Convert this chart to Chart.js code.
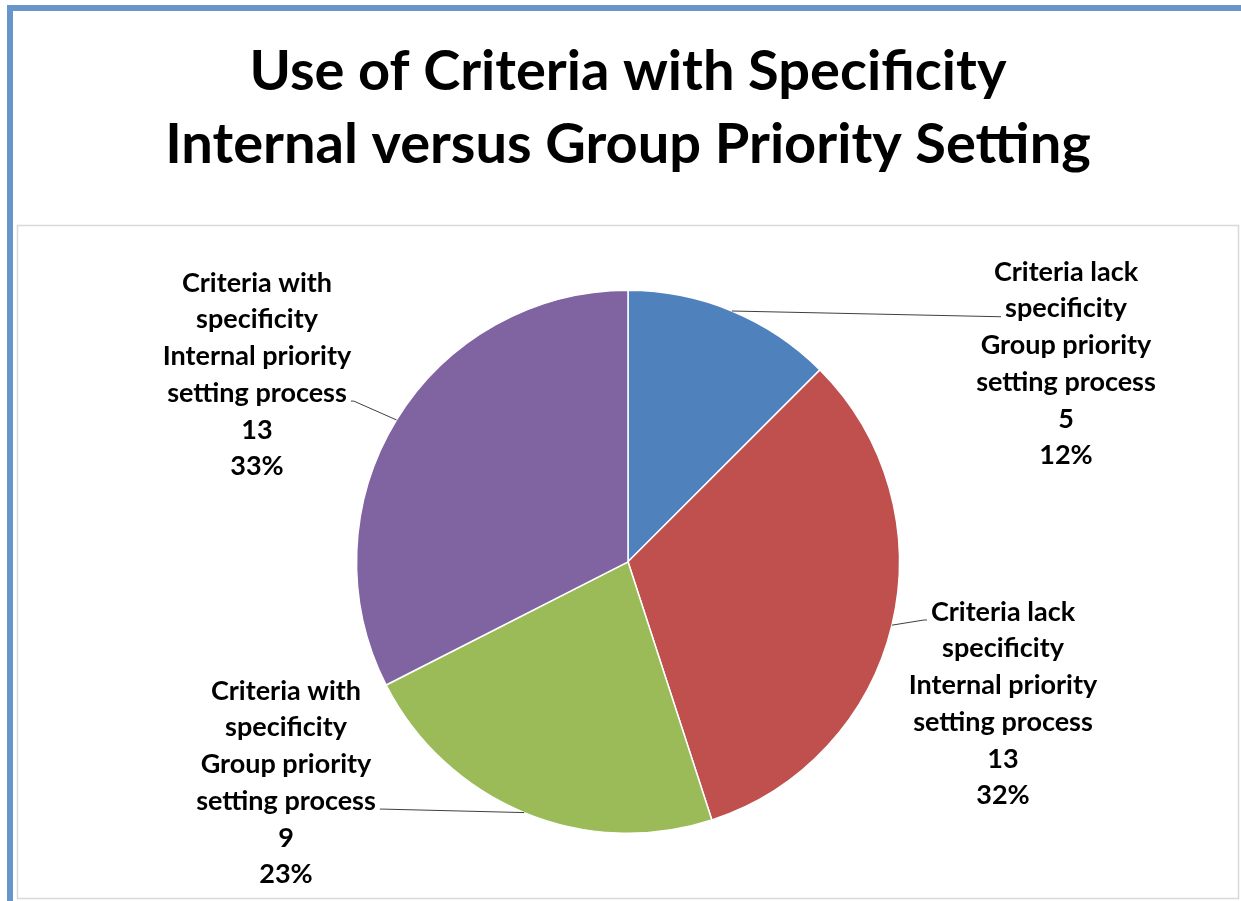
<!DOCTYPE html>
<html>
<head>
<title>Use of Criteria with Specificity</title>
<script src="https://cdn.jsdelivr.net/npm/chart.js@4.4.1/dist/chart.umd.min.js"></script>
<style>
body { margin:0; background:#fff; }
</style>
</head>
<body>
<canvas id="pie1" width="1241" height="901"></canvas>

<script>
// category names, wrapped the way the original shows them
var categories = [
	['Criteria lack', 'specificity', 'Group priority', 'setting process'],
	['Criteria lack', 'specificity', 'Internal priority', 'setting process'],
	['Criteria with', 'specificity', 'Group priority', 'setting process'],
	['Criteria with', 'specificity', 'Internal priority', 'setting process']
];
var counts = [5, 13, 9, 13];
var percentLabels = ['12%', '32%', '23%', '33%'];
var sliceColors = ['#4F81BD', '#C0504D', '#9BBB59', '#8064A2'];

// where each label block sits: centre x, centre y of first line,
// the line the leader touches and on which side
var labelLayout = [
	{x: 1066, y: 272, line: 1, side: 'left'},
	{x: 1003, y: 612, line: 0, side: 'left'},
	{x: 286,  y: 691, line: 3, side: 'right'},
	{x: 257,  y: 283, line: 3, side: 'right'}
];
var LINE_H = 36.7;

var framePlugin = {
	id: 'frame',
	beforeDraw: function(chart){
		var c = chart.ctx;
		c.save();
		c.fillStyle = '#fff';
		c.fillRect(0, 0, chart.width, chart.height);
		// outer blue frame (cut off on right / bottom)
		c.strokeStyle = '#6896CB';
		c.lineWidth = 6;
		c.strokeRect(10, 8, chart.width + 20, chart.height + 20);
		// plot area box
		c.strokeStyle = '#D9D9D9';
		c.lineWidth = 1.5;
		c.strokeRect(17.5, 225.5, 1221, 673);
		c.restore();
	}
};

var labelPlugin = {
	id: 'sliceLabels',
	afterDatasetsDraw: function(chart){
		var c = chart.ctx;
		var arcs = chart.getDatasetMeta(0).data;
		c.save();
		c.font = 'bold 27px Lato';
		c.fillStyle = '#000';
		c.textAlign = 'center';
		c.textBaseline = 'middle';
		arcs.forEach(function(arc, i){
			var p = arc.getProps(['x', 'y', 'startAngle', 'endAngle', 'outerRadius'], true);
			var mid = (p.startAngle + p.endAngle) / 2;
			var ax = p.x + p.outerRadius * Math.cos(mid);
			var ay = p.y + p.outerRadius * Math.sin(mid);
			var L = labelLayout[i];
			var lines = categories[i].concat([String(counts[i]), percentLabels[i]]);
			lines.forEach(function(t, k){
				c.fillText(t, L.x, L.y + k * LINE_H);
			});
			var w = c.measureText(lines[L.line]).width;
			var ty = L.y + L.line * LINE_H + 8;
			var tx = L.side == 'left' ? L.x - w / 2 - 4 : L.x + w / 2 + 4;
			var kx = L.side == 'left' ? tx - 3 : tx + 3;
			c.strokeStyle = '#404040';
			c.lineWidth = 1;
			c.beginPath();
			c.moveTo(ax, ay);
			c.lineTo(kx, ty);
			c.lineTo(tx, ty);
			c.stroke();
		});
		c.restore();
	}
};

var ctx = document.getElementById('pie1').getContext('2d');
var chart = new Chart(ctx, {
	type: 'pie',
	data: {
		labels: categories.map(function(l){ return l.join(' '); }),
		datasets: [{
			data: counts,
			backgroundColor: sliceColors,
			borderColor: '#fff',
			borderWidth: 1.5
		}]
	},
	options: {
		responsive: false,
		animation: false,
		devicePixelRatio: 1,
		layout: {padding: {left: 15, right: 0, top: 0, bottom: 67}},
		plugins: {
			legend: {display: false},
			tooltip: {enabled: false},
			title: {
				display: true,
				text: ['Use of Criteria with Specificity', 'Internal versus Group Priority Setting'],
				color: '#000',
				font: {family: 'Lato', size: 56, weight: 'bold', lineHeight: 1.3},
				padding: {top: 36, bottom: 108}
			}
		}
	},
	plugins: [framePlugin, labelPlugin]
});
</script>
</body>
</html>
